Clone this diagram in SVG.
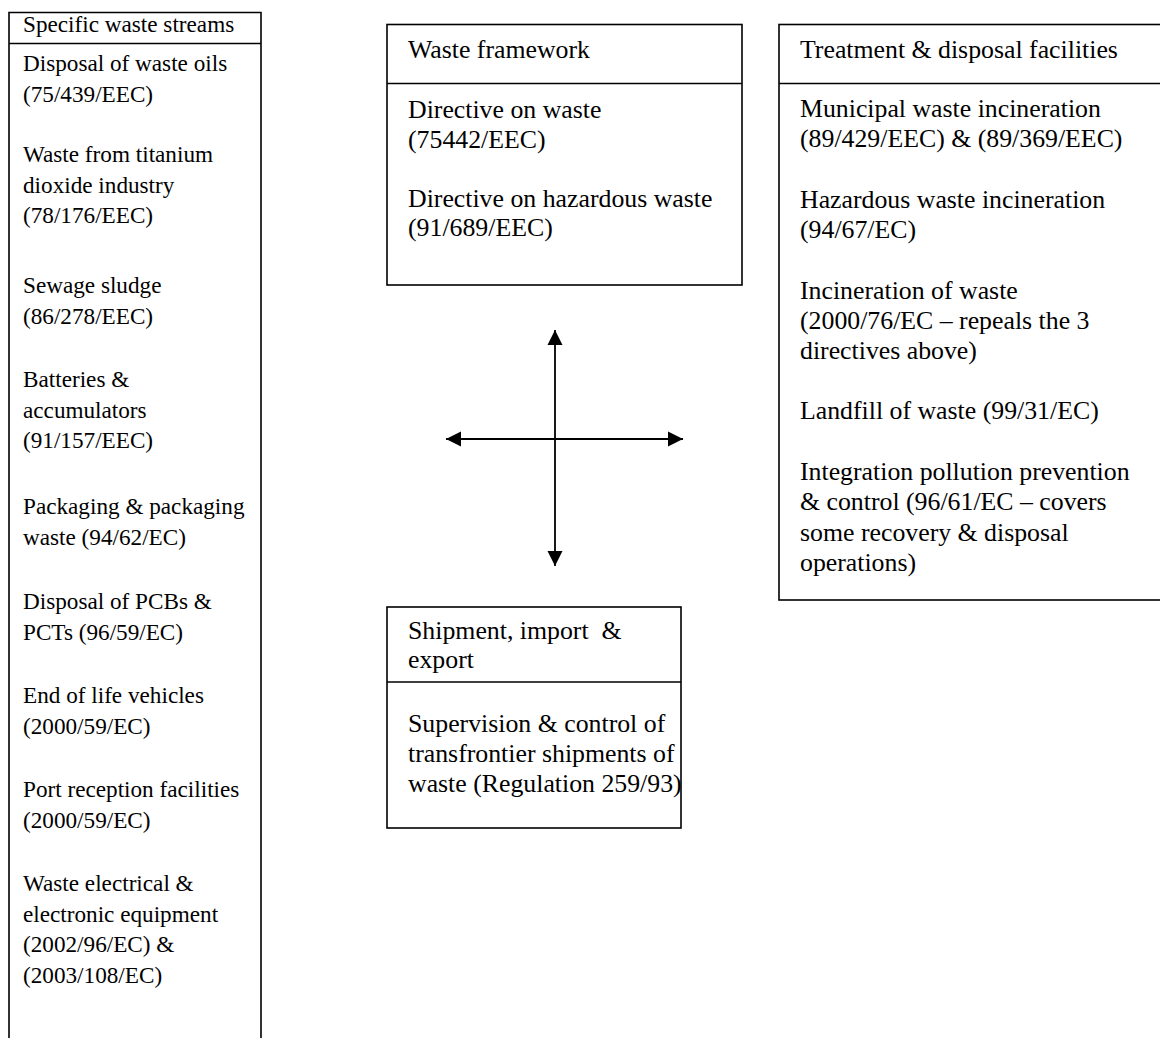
<svg xmlns="http://www.w3.org/2000/svg" width="1160" height="1038" viewBox="0 0 1160 1038">
<style>
.box{fill:#fff;stroke:#000;stroke-width:1.6}
.ln{fill:none;stroke:#000;stroke-width:1.6}
.t{font-family:"Liberation Serif","Times New Roman",serif;fill:#000;white-space:pre}
.s{font-size:23.2px}
.m{font-size:25.8px}
.arr{fill:none;stroke:#000;stroke-width:1.8}
</style>
<defs>
<marker id="ah" viewBox="0 0 16 16" refX="15" refY="8" markerWidth="16" markerHeight="16" markerUnits="userSpaceOnUse" orient="auto-start-reverse">
<path d="M0,0.5 L15,8 L0,15.5 z" fill="#000"/>
</marker>
</defs>
<rect width="1160" height="1038" fill="#fff"/>

<g id="specific-waste-streams">
<path class="ln" d="M9,1040 L9,12.5 L261,12.5 L261,1040 M9,43.5 L261,43.5"/>
<text class="t s" x="23" y="32">Specific waste streams</text>
<text class="t s" x="23">
<tspan x="23" y="71">Disposal of waste oils</tspan>
<tspan x="23" y="101.5">(75/439/EEC)</tspan>
<tspan x="23" y="162">Waste from titanium</tspan>
<tspan x="23" y="192.5">dioxide industry</tspan>
<tspan x="23" y="223">(78/176/EEC)</tspan>
<tspan x="23" y="293">Sewage sludge</tspan>
<tspan x="23" y="323.5">(86/278/EEC)</tspan>
<tspan x="23" y="387">Batteries &amp;</tspan>
<tspan x="23" y="417.5">accumulators</tspan>
<tspan x="23" y="448">(91/157/EEC)</tspan>
<tspan x="23" y="514">Packaging &amp; packaging</tspan>
<tspan x="23" y="544.5">waste (94/62/EC)</tspan>
<tspan x="23" y="609">Disposal of PCBs &amp;</tspan>
<tspan x="23" y="639.5">PCTs (96/59/EC)</tspan>
<tspan x="23" y="703">End of life vehicles</tspan>
<tspan x="23" y="733.5">(2000/59/EC)</tspan>
<tspan x="23" y="797">Port reception facilities</tspan>
<tspan x="23" y="827.5">(2000/59/EC)</tspan>
<tspan x="23" y="891">Waste electrical &amp;</tspan>
<tspan x="23" y="921.5">electronic equipment</tspan>
<tspan x="23" y="952">(2002/96/EC) &amp;</tspan>
<tspan x="23" y="982.5">(2003/108/EC)</tspan>
</text>
</g>

<g id="waste-framework">
<rect class="box" x="387" y="24.5" width="355" height="260.5"/>
<path class="ln" d="M387,83.5 L742,83.5"/>
<text class="t m" x="408" y="58">Waste framework</text>
<text class="t m">
<tspan x="408" y="118">Directive on waste</tspan>
<tspan x="408" y="147.5">(75442/EEC)</tspan>
<tspan x="408" y="206.5">Directive on hazardous waste</tspan>
<tspan x="408" y="236">(91/689/EEC)</tspan>
</text>
</g>

<g id="treatment-disposal-facilities">
<rect class="box" x="779" y="24.5" width="400" height="575.5"/>
<path class="ln" d="M779,83.5 L1162,83.5"/>
<text class="t m" x="800" y="58">Treatment &amp; disposal facilities</text>
<text class="t m">
<tspan x="800" y="117">Municipal waste incineration</tspan>
<tspan x="800" y="147.3">(89/429/EEC) &amp; (89/369/EEC)</tspan>
<tspan x="800" y="207.9">Hazardous waste incineration</tspan>
<tspan x="800" y="238.2">(94/67/EC)</tspan>
<tspan x="800" y="298.8">Incineration of waste</tspan>
<tspan x="800" y="329.1">(2000/76/EC – repeals the 3</tspan>
<tspan x="800" y="359.4">directives above)</tspan>
<tspan x="800" y="419">Landfill of waste (99/31/EC)</tspan>
<tspan x="800" y="480">Integration pollution prevention</tspan>
<tspan x="800" y="510.3">&amp; control (96/61/EC – covers</tspan>
<tspan x="800" y="540.6">some recovery &amp; disposal</tspan>
<tspan x="800" y="570.9">operations)</tspan>
</text>
</g>

<g id="shipment-import-export">
<rect class="box" x="387" y="607" width="294" height="221"/>
<path class="ln" d="M387,682 L681,682"/>
<text class="t m">
<tspan x="408" y="639">Shipment, import  &amp;</tspan>
<tspan x="408" y="668">export</tspan>
</text>
<text class="t m">
<tspan x="408" y="732">Supervision &amp; control of</tspan>
<tspan x="408" y="762">transfrontier shipments of</tspan>
<tspan x="408" y="792">waste (Regulation 259/93)</tspan>
</text>
</g>

<g id="connectors">
<line class="arr" x1="555" y1="330" x2="555" y2="566" marker-start="url(#ah)" marker-end="url(#ah)"/>
<line class="arr" x1="446" y1="439" x2="683" y2="439" marker-start="url(#ah)" marker-end="url(#ah)"/>
</g>
</svg>
